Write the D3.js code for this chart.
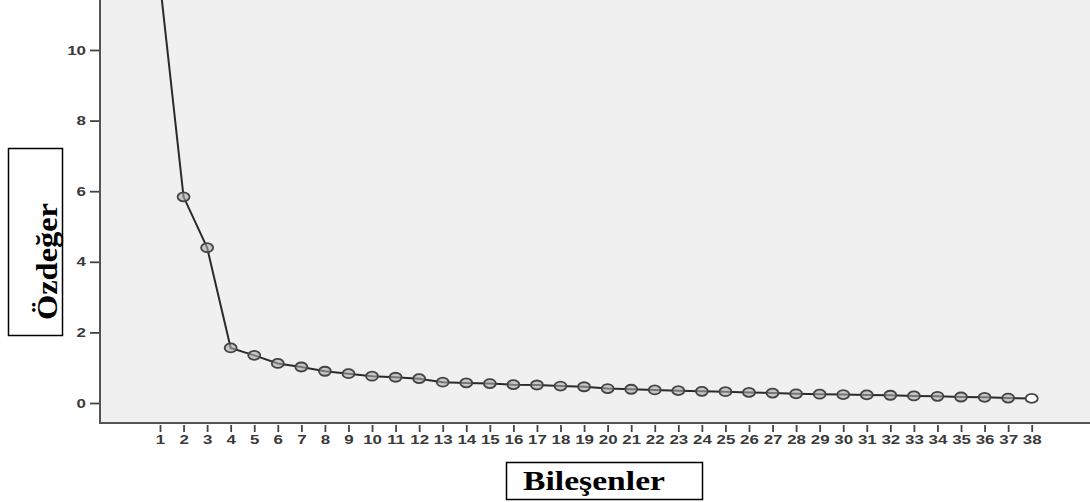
<!DOCTYPE html>
<html>
<head>
<meta charset="utf-8">
<script src="https://cdn.jsdelivr.net/npm/d3@7"></script>
<style>
  body { margin: 0; background: #fff; }
  svg { display: block; }
</style>
</head>
<body>
<div id="chart"></div>
<script>
// scree plot data: component number and eigenvalue
const components = d3.range(1, 39);
const eigenvalues = [11.9, 5.84, 4.4, 1.56, 1.35, 1.12, 1.02, 0.9, 0.83, 0.76,
  0.73, 0.69, 0.59, 0.57, 0.55, 0.52, 0.51, 0.48, 0.46, 0.41,
  0.39, 0.37, 0.35, 0.33, 0.32, 0.3, 0.28, 0.26, 0.25, 0.24,
  0.23, 0.22, 0.2, 0.19, 0.17, 0.16, 0.14, 0.13];
const yTicks = [0, 2, 4, 6, 8, 10];
const yTitle = "Özdeğer";
const xTitle = "Bileşenler";

const width = 1090, height = 502;
const plot = {left: 100, right: 1090, top: 0, bottom: 423};

const svg = d3.select("#chart").append("svg")
    .attr("width", width)
    .attr("height", height);

const x = d3.scaleLinear().domain([1, 38]).range([160, 1031.7]);
const y = d3.scaleLinear().domain([0, 10]).range([403, 50]);

// grey plot background
svg.append("rect")
    .attr("x", plot.left)
    .attr("y", plot.top)
    .attr("width", plot.right - plot.left)
    .attr("height", plot.bottom - plot.top)
    .attr("fill", "#f0f0f0");

svg.append("clipPath").attr("id", "clip")
    .append("rect")
    .attr("x", plot.left).attr("y", plot.top)
    .attr("width", plot.right - plot.left)
    .attr("height", plot.bottom - plot.top);

// y axis
const yAxis = svg.append("g")
    .attr("transform", "translate(" + plot.left + ",0)")
    .call(d3.axisLeft(y).tickValues(yTicks).tickSize(10).tickPadding(4).tickSizeOuter(0));
yAxis.select(".domain").remove();
yAxis.append("line")
    .attr("x1", 0).attr("x2", 0)
    .attr("y1", plot.top).attr("y2", plot.bottom + 1)
    .attr("stroke", "#555").attr("stroke-width", 2);

// x axis
const xAxis = svg.append("g")
    .attr("transform", "translate(0," + (plot.bottom + 2) + ")")
    .call(d3.axisBottom(x).tickValues(components).tickSize(7).tickPadding(3).tickFormat(d3.format("d")));
xAxis.select(".domain").remove();
svg.append("line")
    .attr("x1", plot.left).attr("x2", plot.right)
    .attr("y1", plot.bottom).attr("y2", plot.bottom)
    .attr("stroke", "#555").attr("stroke-width", 2);

svg.selectAll(".tick line").attr("stroke", "#444").attr("stroke-width", 1.8);
svg.selectAll(".tick text")
    .attr("fill", "#3a3a3a")
    .style("font-family", "'Liberation Sans', Arial, sans-serif")
    .style("font-size", "13px")
    .style("font-weight", "bold")
    .each(function() {
        // the original labels are drawn horizontally stretched
        const w = this.getComputedTextLength();
        d3.select(this)
            .attr("textLength", w * 1.3)
            .attr("lengthAdjust", "spacingAndGlyphs");
    });

// line + markers
const data = components.map((c, i) => ({c: c, v: eigenvalues[i]}));
const g = svg.append("g").attr("clip-path", "url(#clip)");

g.append("path")
    .datum(data)
    .attr("fill", "none")
    .attr("stroke", "#2a2a2a")
    .attr("stroke-width", 2)
    .attr("d", d3.line().x(d => x(d.c)).y(d => y(d.v)));

g.selectAll(".pt")
    .data(data)
    .join("ellipse")
    .attr("class", "pt")
    .attr("cx", d => x(d.c))
    .attr("cy", d => y(d.v))
    .attr("rx", 6)
    .attr("ry", 4.5)
    .attr("fill", (d, i) => i === data.length - 1 ? "#fff" : "#aaa")
    .attr("fill-opacity", (d, i) => i === data.length - 1 ? 1 : 0.6)
    .attr("stroke", "#444")
    .attr("stroke-width", 1.8);

// axis title boxes
svg.append("rect")
    .attr("x", 8.5).attr("y", 148.5)
    .attr("width", 54).attr("height", 187)
    .attr("fill", "#fff").attr("stroke", "#000").attr("stroke-width", 1.5);
svg.append("text")
    .attr("transform", "translate(57,320) rotate(-90)")
    .attr("textLength", 117)
    .attr("lengthAdjust", "spacingAndGlyphs")
    .style("font-family", "'Liberation Serif', 'Times New Roman', serif")
    .style("font-weight", "bold")
    .style("font-size", "30px")
    .text(yTitle);

svg.append("rect")
    .attr("x", 506.5).attr("y", 462.5)
    .attr("width", 196).attr("height", 37)
    .attr("fill", "#fff").attr("stroke", "#000").attr("stroke-width", 1.5);
svg.append("text")
    .attr("x", 523).attr("y", 490)
    .attr("textLength", 142)
    .attr("lengthAdjust", "spacingAndGlyphs")
    .style("font-family", "'Liberation Serif', 'Times New Roman', serif")
    .style("font-weight", "bold")
    .style("font-size", "28px")
    .text(xTitle);
</script>
</body>
</html>
